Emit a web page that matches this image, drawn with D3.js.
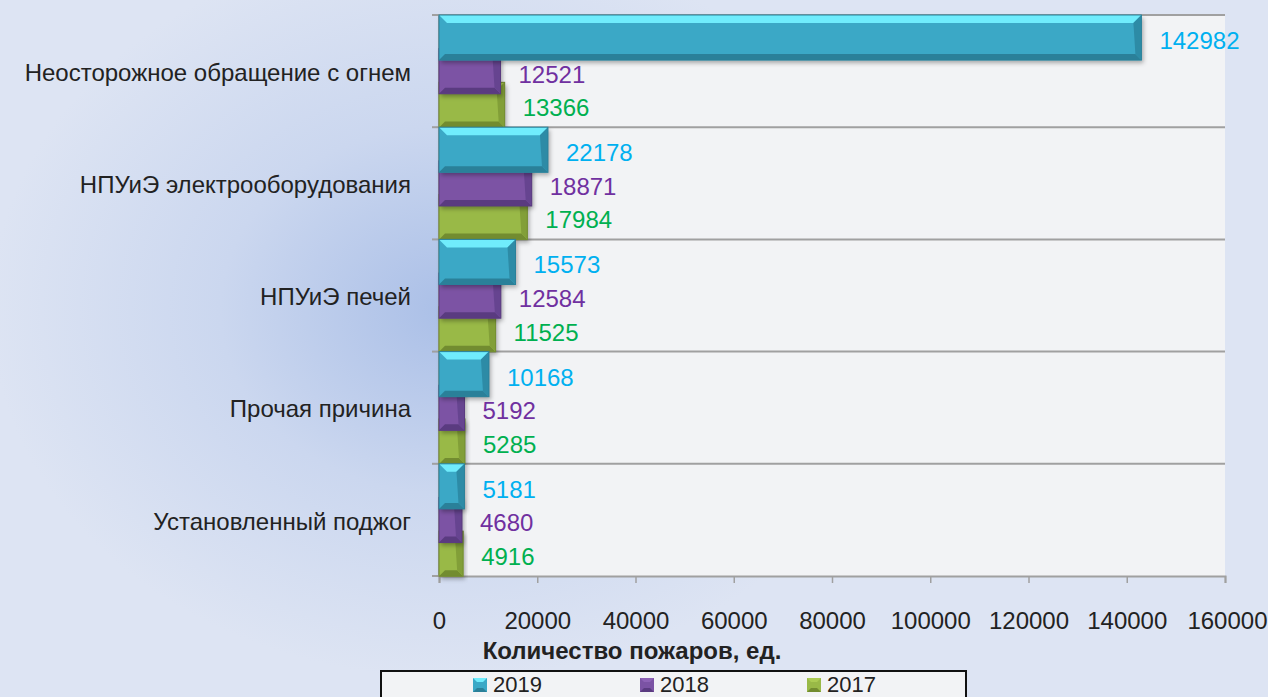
<!DOCTYPE html>
<html>
<head>
<meta charset="utf-8">
<script src="https://cdn.jsdelivr.net/npm/d3@7"></script>
<style>
  html, body { margin: 0; padding: 0; background: #dce3f3; }
  svg { display: block; font-family: "Liberation Sans", Arial, sans-serif; }
</style>
</head>
<body>
<div id="chart"></div>
<script>
// data
var causes = ["Неосторожное обращение с огнем", "НПУиЭ электрооборудования", "НПУиЭ печей", "Прочая причина", "Установленный поджог"];
var years = ["2019", "2018", "2017"];
var v2019 = [142982, 22178, 15573, 10168, 5181];
var v2018 = [12521, 18871, 12584, 5192, 4680];
var v2017 = [13366, 17984, 11525, 5285, 4916];
var xTicks = [0, 20000, 40000, 60000, 80000, 100000, 120000, 140000, 160000];

var seriesValues = { "2019": v2019, "2018": v2018, "2017": v2017 };

var W = 1268, H = 697;
var margin = { top: 15, right: 43, bottom: 121, left: 439 },
    width = W - margin.left - margin.right,
    height = H - margin.top - margin.bottom;

// colours per series: main, light bevel, dark bevel, label
var colors = {
  "2019": { main: "#3aa8c6", light: "#70ecfc", dark: "#2a8099", side: "#2d8ba6", label: "#00b0f0" },
  "2018": { main: "#7b53a4", light: "#8d62b6", dark: "#5a3b80", side: "#664490", label: "#7030a0" },
  "2017": { main: "#99b947", light: "#abcb53", dark: "#728c30", side: "#829f38", label: "#00b050" }
};

var svg = d3.select("#chart").append("svg")
    .attr("width", W)
    .attr("height", H);

var defs = svg.append("defs");
var glow = defs.append("radialGradient")
    .attr("id", "bgGlow")
    .attr("gradientUnits", "userSpaceOnUse")
    .attr("cx", 450).attr("cy", 310).attr("r", 460)
    .attr("gradientTransform", "translate(450,310) scale(1,0.8) translate(-450,-310)");
glow.append("stop").attr("offset", "0").attr("stop-color", "#aabfe7");
glow.append("stop").attr("offset", "0.5").attr("stop-color", "#cbd7ef");
glow.append("stop").attr("offset", "1").attr("stop-color", "#dde4f3");

var shadow = defs.append("filter").attr("id", "shadow")
    .attr("x", "-10%").attr("y", "-20%").attr("width", "130%").attr("height", "160%");
shadow.append("feDropShadow")
    .attr("dx", 2).attr("dy", 3).attr("stdDeviation", 2)
    .attr("flood-color", "#000").attr("flood-opacity", 0.3);

// background
svg.append("rect").attr("width", W).attr("height", H).attr("fill", "#dde4f3");
svg.append("rect").attr("width", W).attr("height", H).attr("fill", "url(#bgGlow)");

var g = svg.append("g")
    .attr("transform", "translate(" + margin.left + "," + margin.top + ")");

// plot area
g.append("rect")
    .attr("width", width)
    .attr("height", height)
    .attr("fill", "#f2f3f5");

var x = d3.scaleLinear()
    .domain([0, 160000])
    .range([0, width]);

var y = d3.scaleBand()
    .domain(causes)
    .range([0, height])
    .padding(0);

// overlapping 3d-ish bars: step of ~33px, bar ~45px
var ySub = d3.scaleBand()
    .domain(years)
    .range([0, y.bandwidth() * 0.9])
    .padding(0);
var barH = ySub.bandwidth() * 1.34;

// horizontal grid lines at category borders
g.append("g")
  .selectAll("line")
  .data(causes)
  .enter().append("line")
    .attr("x1", 0).attr("x2", width)
    .attr("y1", function (d) { return y(d); })
    .attr("y2", function (d) { return y(d); })
    .attr("stroke", "#a0a0a0")
    .attr("stroke-width", 2);

// x axis
var xAxis = g.append("g")
    .attr("transform", "translate(0," + height + ")")
    .call(d3.axisBottom(x).tickValues(xTicks).tickSize(7).tickFormat(d3.format("d")));
xAxis.select(".domain").attr("stroke", "#a0a0a0").attr("stroke-width", 2);
xAxis.selectAll(".tick line").attr("stroke", "#a0a0a0").attr("stroke-width", 1.5);
xAxis.selectAll(".tick text")
    .attr("y", 36)
    .attr("dy", "0.71em")
    .attr("fill", "#222")
    .style("font-size", "24px")
    .style("font-family", "Liberation Sans, Arial, sans-serif");
// last label is pulled in to stay inside the picture
xAxis.selectAll(".tick text").filter(function (d) { return d === 160000; })
    .attr("text-anchor", "end")
    .attr("x", 42);

// y axis
var yAxis = g.append("g")
    .call(d3.axisLeft(y).tickSize(0).tickPadding(28));
yAxis.select(".domain").remove();
yAxis.selectAll(".tick text")
    .attr("fill", "#222")
    .attr("dy", "0.4em")
    .style("font-size", "24px")
    .style("font-family", "Liberation Sans, Arial, sans-serif");

// y tick marks at the category borders
g.append("g")
  .selectAll("line")
  .data(causes.concat(["end"]))
  .enter().append("line")
    .attr("x1", -7).attr("x2", 0)
    .attr("y1", function (d, i) { return i * y.step(); })
    .attr("y2", function (d, i) { return i * y.step(); })
    .attr("stroke", "#a0a0a0")
    .attr("stroke-width", 2);
g.append("line")
    .attr("x1", 0).attr("x2", 0)
    .attr("y1", 0).attr("y2", height)
    .attr("stroke", "#a0a0a0")
    .attr("stroke-width", 2);

// bars, back to front
var drawOrder = ["2017", "2018", "2019"];
drawOrder.forEach(function (yr) {
    var c = colors[yr];
    var vals = seriesValues[yr];
    var bars = g.append("g").attr("class", "s" + yr)
      .selectAll("g")
      .data(causes.map(function (cause, i) { return { cause: cause, value: vals[i] }; }))
      .enter().append("g")
        .attr("transform", function (d) {
            return "translate(0," + (y(d.cause) + ySub(yr)) + ")";
        });

    bars.append("rect")
        .attr("x", 0).attr("y", 0)
        .attr("width", function (d) { return x(d.value); })
        .attr("height", barH)
        .attr("fill", c.main)
        .attr("filter", "url(#shadow)");

    // bevel faces
    bars.append("path")
        .attr("fill", c.light)
        .attr("d", function (d) {
            var w = x(d.value), b = Math.min(8, w / 2, barH / 4);
            return "M0,0L" + w + ",0L" + (w - b) + "," + b + "L" + b + "," + b + "Z";
        });
    bars.append("path")
        .attr("fill", c.dark)
        .attr("d", function (d) {
            var w = x(d.value), b = Math.min(6, w / 2, barH / 4);
            return "M0," + barH + "L" + w + "," + barH + "L" + (w - b) + "," + (barH - b) + "L" + b + "," + (barH - b) + "Z";
        });
    bars.append("path")
        .attr("fill", c.side)
        .attr("d", function (d) {
            var w = x(d.value), b = Math.min(8, w / 2, barH / 4), bb = Math.min(6, w / 2, barH / 4);
            return "M" + w + ",0L" + w + "," + barH + "L" + (w - bb) + "," + (barH - bb) + "L" + (w - b) + "," + b + "Z";
        });
    bars.append("rect")
        .attr("x", 0).attr("y", 0)
        .attr("width", function (d) { return x(d.value); })
        .attr("height", barH)
        .attr("fill", "none")
        .attr("stroke", c.dark)
        .attr("stroke-width", 1);
});

// value labels
years.forEach(function (yr) {
    var c = colors[yr];
    var vals = seriesValues[yr];
    g.append("g")
      .selectAll("text")
      .data(causes.map(function (cause, i) { return { cause: cause, value: vals[i] }; }))
      .enter().append("text")
        .attr("x", function (d) { return x(d.value) + 18; })
        .attr("y", function (d) { return y(d.cause) + ySub(yr) + barH / 2 + 3; })
        .attr("dy", "0.35em")
        .attr("fill", c.label)
        .style("font-size", "24px")
        .text(function (d) { return d.value; });
});

// x axis title
svg.append("text")
    .attr("x", 632)
    .attr("y", 659)
    .attr("text-anchor", "middle")
    .attr("fill", "#222")
    .style("font-size", "24px")
    .style("font-weight", "bold")
    .text("Количество пожаров, ед.");

// legend
var legend = svg.append("g");
legend.append("rect")
    .attr("x", 381).attr("y", 671)
    .attr("width", 585).attr("height", 40)
    .attr("fill", "#f2f3f5")
    .attr("stroke", "#111")
    .attr("stroke-width", 2);
var legendX = d3.scalePoint().domain(years).range([473, 807]);
var item = legend.selectAll("g.item")
    .data(years)
    .enter().append("g")
    .attr("class", "item")
    .attr("transform", function (d) { return "translate(" + legendX(d) + ",678)"; });
item.append("rect")
    .attr("width", 14).attr("height", 14)
    .attr("fill", function (d) { return colors[d].main; });
item.append("path")
    .attr("fill", function (d) { return colors[d].light; })
    .attr("d", "M0,0L14,0L10,4L4,4Z");
item.append("path")
    .attr("fill", function (d) { return colors[d].dark; })
    .attr("d", "M0,14L14,14L10,10L4,10Z");
item.append("text")
    .attr("x", 20)
    .attr("y", 14)
    .attr("fill", "#222")
    .style("font-size", "22px")
    .text(function (d) { return d; });
</script>
</body>
</html>
